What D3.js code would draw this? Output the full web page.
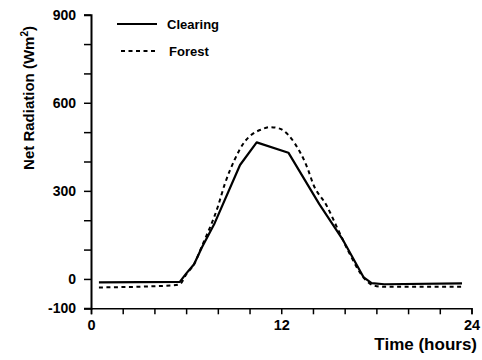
<!DOCTYPE html>
<html>
<head>
<meta charset="utf-8">
<script src="https://cdn.jsdelivr.net/npm/d3@7"></script>
<style>
  html, body { margin: 0; padding: 0; background: #fff; }
  svg { display: block; font-family: "Liberation Sans", Arial, sans-serif; }
</style>
</head>
<body>
<svg id="chart" width="482" height="360"></svg>
<script>
// ---- data ----
const clearingHours  = [0.5, 5.6, 6.0, 6.5, 7.0, 7.8, 9.4, 10.45, 12.45, 14.4, 15.9, 17.2, 17.7, 18.5, 23.4];
const clearingValues = [-12, -10, 18, 50, 108, 190, 388, 465, 430, 255, 132, 5, -14, -18, -15];

const forestHours  = [0.5, 5.2, 5.6, 6.0, 6.5, 7.0, 8.0, 8.45, 9.05, 9.7, 10.1, 10.7, 11.3, 11.9, 12.45, 12.85, 13.7, 14.0, 14.85, 15.6, 16.2, 17.3, 17.8, 18.5, 23.35];
const forestValues = [-29, -22, -18, 15, 50, 112, 246, 325, 405, 468, 490, 508, 517, 512, 490, 462, 371, 325, 251, 166, 98, -2, -22, -27, -27];

const yTicks = [-100, 0, 100, 200, 300, 400, 500, 600, 700, 800, 900];
const yLabels = [-100, 0, 300, 600, 900];
const xTicks = [0, 2, 4, 6, 8, 10, 12, 14, 16, 18, 20, 22, 24];
const xLabels = [0, 12, 24];

const seriesNames = ["Clearing", "Forest"];
const xTitle = "Time (hours)";

// ---- layout ----
const svg = d3.select("#chart");
const x = d3.scaleLinear().domain([0, 24]).range([91, 471.5]);
const y = d3.scaleLinear().domain([-100, 900]).range([308.3, 14.7]);

// y axis
const yAxis = svg.append("g")
  .attr("transform", `translate(${x(0)},0)`)
  .call(d3.axisLeft(y).tickValues(yTicks).tickSizeOuter(0).tickSize(7).tickPadding(8)
    .tickFormat(d => yLabels.includes(d) ? d : ""));
yAxis.select(".domain").attr("stroke", "#000").attr("stroke-width", 2);
yAxis.selectAll(".tick line").attr("stroke", "#000").attr("stroke-width", 1.5);
yAxis.selectAll(".tick text").attr("fill", "#000").attr("font-size", 14).attr("font-weight", "bold");

// x axis
const xAxis = svg.append("g")
  .attr("transform", `translate(0,${y(-100)})`)
  .call(d3.axisBottom(x).tickValues(xTicks).tickSizeOuter(0).tickSize(6).tickPadding(5)
    .tickFormat(d => xLabels.includes(d) ? d : ""));
xAxis.select(".domain").attr("stroke", "#000").attr("stroke-width", 1.5);
xAxis.selectAll(".tick line").attr("stroke", "#000").attr("stroke-width", 1.5);
xAxis.selectAll(".tick text").attr("fill", "#000").attr("font-size", 14.5).attr("font-weight", "bold");

// titles
svg.append("text")
  .attr("x", 477).attr("y", 350)
  .attr("text-anchor", "end")
  .attr("font-size", 17).attr("font-weight", "bold")
  .text(xTitle);

const yt = svg.append("text")
  .attr("transform", "translate(34,98) rotate(-90)")
  .attr("text-anchor", "middle")
  .attr("font-size", 15).attr("font-weight", "bold");
yt.append("tspan").text("Net Radiation (Wm");
yt.append("tspan").attr("font-size", 10).attr("dy", -6).text("2");
yt.append("tspan").attr("dy", 6).text(")");

// lines
const clearing = clearingHours.map((h, i) => [h, clearingValues[i]]);
const forest = forestHours.map((h, i) => [h, forestValues[i]]);

const line = d3.line().x(d => x(d[0])).y(d => y(d[1]));
const smooth = d3.line().x(d => x(d[0])).y(d => y(d[1])).curve(d3.curveMonotoneX);

svg.append("path").datum(forest)
  .attr("d", smooth)
  .attr("fill", "none").attr("stroke", "#000")
  .attr("stroke-width", 2).attr("stroke-dasharray", "4,3.5");

svg.append("path").datum(clearing)
  .attr("d", line)
  .attr("fill", "none").attr("stroke", "#000")
  .attr("stroke-width", 2.2).attr("stroke-linejoin", "round");

// legend
const legend = svg.append("g");
legend.append("line").attr("x1", 117).attr("x2", 157).attr("y1", 24).attr("y2", 24)
  .attr("stroke", "#000").attr("stroke-width", 2.2);
legend.append("text").attr("x", 167).attr("y", 28.5)
  .attr("font-size", 13).attr("font-weight", "bold").text(seriesNames[0]);
legend.append("line").attr("x1", 121).attr("x2", 157).attr("y1", 51).attr("y2", 51)
  .attr("stroke", "#000").attr("stroke-width", 2).attr("stroke-dasharray", "4,3.5");
legend.append("text").attr("x", 169).attr("y", 55.5)
  .attr("font-size", 13).attr("font-weight", "bold").text(seriesNames[1]);
</script>
</body>
</html>
